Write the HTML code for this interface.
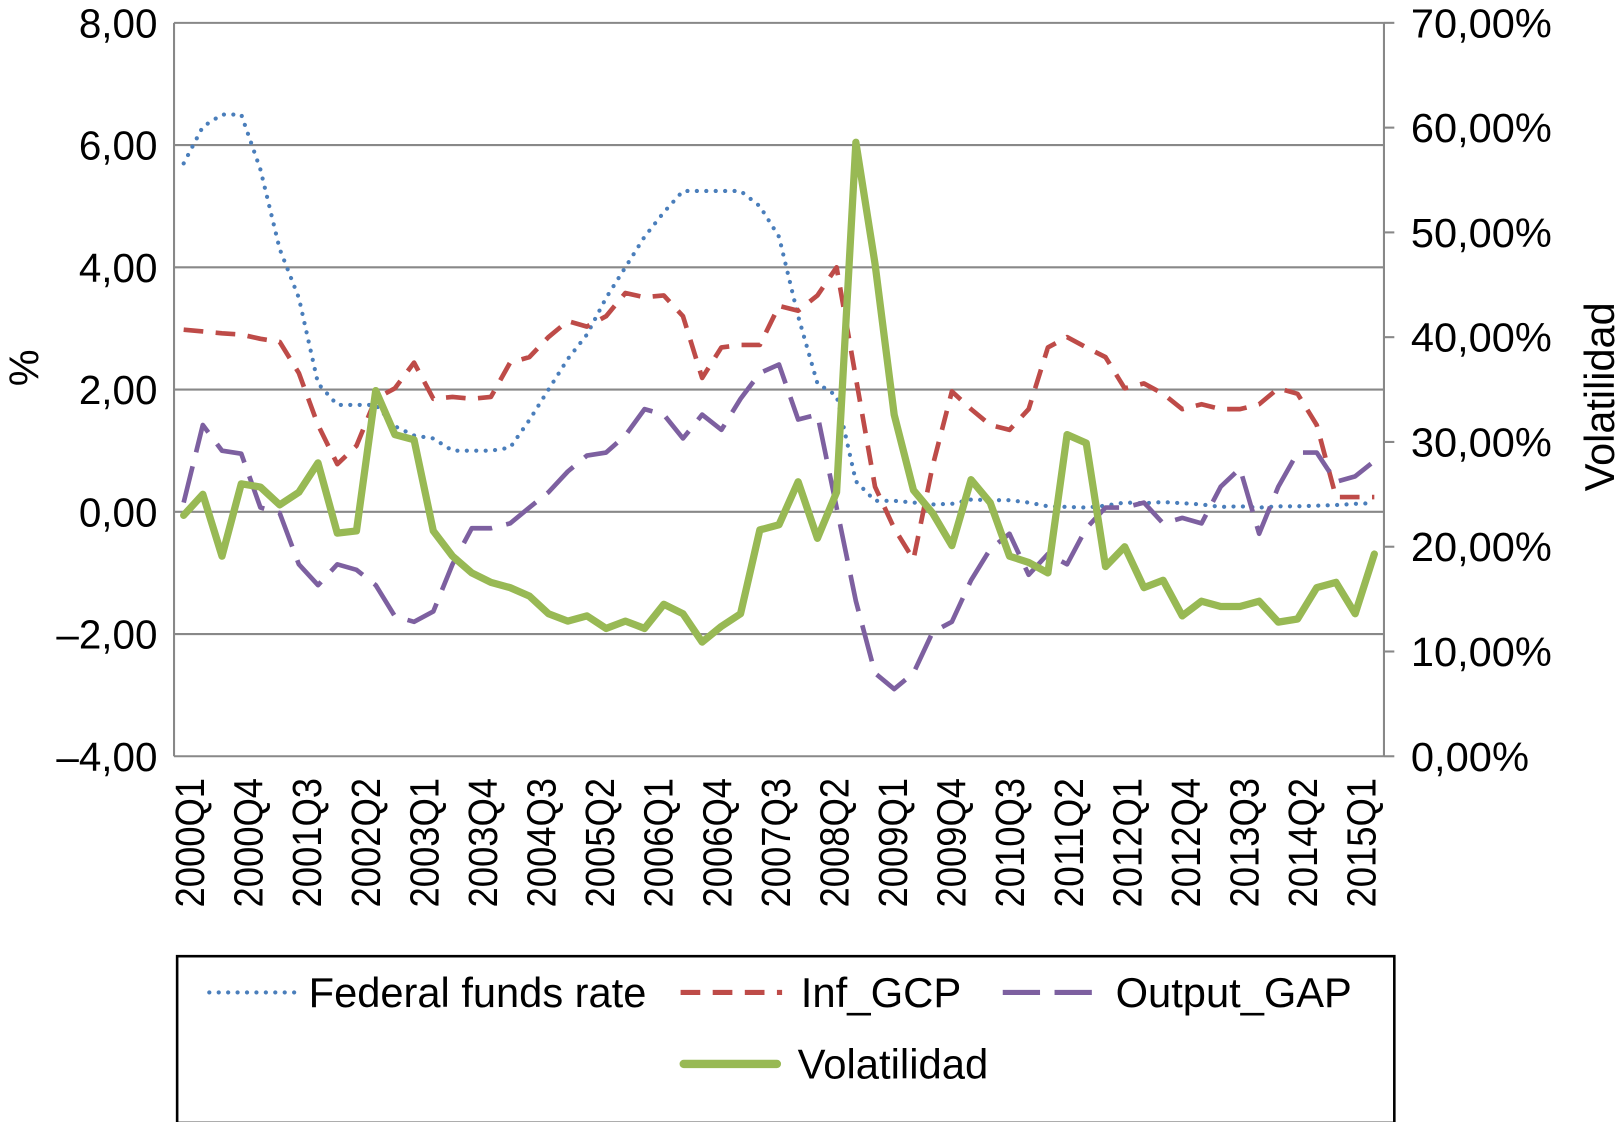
<!DOCTYPE html>
<html><head><meta charset="utf-8">
<style>
html,body{margin:0;padding:0;background:#fff;}
svg{display:block;font-family:"Liberation Sans",Arial,sans-serif;}
</style></head>
<body>
<svg id="chart" width="1616" height="1122" viewBox="0 0 1560 1083" xmlns="http://www.w3.org/2000/svg">
<g id="grid"></g>
<g id="axes"></g>
<g id="series"></g>
<text transform="translate(37,355) rotate(-90)" font-size="40" text-anchor="middle">%</text>
<text transform="translate(1558,383) rotate(-90)" font-size="40" text-anchor="middle">Volatilidad</text>
<g>
<rect x="171" y="923" width="1175" height="161" fill="#fff" stroke="#000" stroke-width="2.5"/>
<g>
<line x1="202" y1="958" x2="290" y2="958" stroke="#4a7ebb" stroke-width="4" stroke-dasharray="0.1 9" stroke-linecap="round"/>
<text x="298" y="972" font-size="40" textLength="326" lengthAdjust="spacingAndGlyphs">Federal funds rate</text></g>
<g>
<line x1="657" y1="958" x2="755" y2="958" stroke="#be4b48" stroke-width="5" stroke-dasharray="19 12"/>
<text x="773" y="972" font-size="40" textLength="155" lengthAdjust="spacingAndGlyphs">Inf_GCP</text></g>
<g>
<line x1="968" y1="958" x2="1062" y2="958" stroke="#7d60a0" stroke-width="5" stroke-dasharray="36 14"/>
<text x="1077" y="972" font-size="40" textLength="228" lengthAdjust="spacingAndGlyphs">Output_GAP</text></g>
<g>
<line x1="660" y1="1027" x2="750" y2="1027" stroke="#98b954" stroke-width="8" stroke-linecap="round"/>
<text x="770" y="1041" font-size="40" textLength="184" lengthAdjust="spacingAndGlyphs">Volatilidad</text></g>
</g>
</svg>
<script>
const quarterLabels = ["2000Q1","2000Q4","2001Q3","2002Q2","2003Q1","2003Q4","2004Q3","2005Q2","2006Q1","2006Q4","2007Q3","2008Q2","2009Q1","2009Q4","2010Q3","2011Q2","2012Q1","2012Q4","2013Q3","2014Q2","2015Q1"];
const leftTicks = [8,6,4,2,0,-2,-4];
const leftTickLabels = ["8,00","6,00","4,00","2,00","0,00","\u20132,00","\u20134,00"];
const rightTicks = [70,60,50,40,30,20,10,0];
const rightTickLabels = ["70,00%","60,00%","50,00%","40,00%","30,00%","20,00%","10,00%","0,00%"];
const fedFunds = [5.7,6.3,6.5,6.5,5.6,4.3,3.5,2.1,1.75,1.75,1.75,1.4,1.25,1.2,1.0,1.0,1.0,1.05,1.5,2.0,2.5,2.9,3.5,4.0,4.5,4.9,5.25,5.25,5.25,5.25,5.0,4.5,3.2,2.1,1.9,0.5,0.18,0.18,0.15,0.12,0.13,0.2,0.19,0.19,0.15,0.09,0.08,0.07,0.1,0.15,0.14,0.16,0.14,0.12,0.08,0.09,0.07,0.09,0.09,0.1,0.11,0.13,0.14];
const infGCP = [2.98,2.95,2.92,2.90,2.83,2.78,2.27,1.42,0.78,1.08,1.85,2.02,2.44,1.85,1.88,1.85,1.88,2.44,2.53,2.86,3.12,3.03,3.2,3.58,3.51,3.54,3.2,2.19,2.69,2.73,2.73,3.37,3.29,3.54,4.0,2.19,0.41,-0.27,-0.78,0.75,1.97,1.68,1.42,1.34,1.68,2.69,2.86,2.69,2.53,2.02,2.1,1.93,1.68,1.76,1.68,1.68,1.76,2.02,1.93,1.42,0.24,0.24,0.24];
const outputGap = [0.15,1.42,1.0,0.95,0.07,-0.02,-0.86,-1.2,-0.86,-0.95,-1.2,-1.71,-1.8,-1.63,-0.86,-0.27,-0.27,-0.19,0.07,0.32,0.66,0.92,0.97,1.25,1.68,1.59,1.2,1.59,1.34,1.85,2.27,2.41,1.51,1.59,0.07,-1.46,-2.64,-2.9,-2.64,-1.97,-1.8,-1.12,-0.61,-0.36,-1.03,-0.69,-0.86,-0.27,0.07,0.07,0.15,-0.19,-0.1,-0.19,0.41,0.71,-0.36,0.41,0.97,0.97,0.49,0.58,0.83];
const volatilidad = [23.0,25.0,19.1,26.0,25.7,24.0,25.2,28.0,21.3,21.5,34.9,30.7,30.2,21.5,19.1,17.5,16.6,16.1,15.3,13.6,12.9,13.4,12.2,12.9,12.2,14.5,13.6,10.9,12.4,13.6,21.6,22.1,26.2,20.8,25.2,58.6,47.0,32.6,25.4,23.2,20.1,26.4,24.2,19.1,18.5,17.5,30.7,29.9,18.1,20.0,16.1,16.8,13.4,14.8,14.3,14.3,14.8,12.8,13.1,16.1,16.6,13.6,19.3];

const NS="http://www.w3.org/2000/svg";
const L=168,R=1336,T=22,B=730;
const N=volatilidad.length;
const x=i=>L+(R-L)/N*(i+0.5);
const yL=v=>T+(8-v)/12*(B-T);
const yR=v=>B-v/70*(B-T);
function mk(tag,attrs,parent){const e=document.createElementNS(NS,tag);for(const k in attrs)e.setAttribute(k,attrs[k]);parent.appendChild(e);return e;}
const grid=document.getElementById('grid'),axes=document.getElementById('axes'),series=document.getElementById('series');
leftTicks.forEach((v,k)=>{
  const g=mk('line',{x1:L,x2:R,y1:yL(v),y2:yL(v),stroke:'#888','stroke-width':2},grid);
  
  
  const t=mk('text',{x:152,y:yL(v)+14,'font-size':39,'text-anchor':'end'},axes);
  t.textContent=leftTickLabels[k];
  
  
});
rightTicks.forEach((v,k)=>{
  const tk=mk('line',{x1:R,x2:R+10,y1:yR(v),y2:yR(v),stroke:'#888','stroke-width':2},axes);
  
  
  const t=mk('text',{x:1362,y:yR(v)+14,'font-size':39,textLength:136,lengthAdjust:'spacingAndGlyphs'},axes);
  if(rightTickLabels[k].length<6)t.setAttribute('textLength',114);
  t.textContent=rightTickLabels[k];
  
  
});
const la=mk('line',{x1:L,x2:L,y1:T,y2:B,stroke:'#888','stroke-width':2},axes);


const ra=mk('line',{x1:R,x2:R,y1:T,y2:B,stroke:'#888','stroke-width':2},axes);


quarterLabels.forEach((s,k)=>{
  const cx=183+k*(1314-183)/(quarterLabels.length-1);
  const t=mk('text',{transform:`translate(${cx+14},751) rotate(-90)`,'font-size':39,'text-anchor':'end',textLength:125,lengthAdjust:'spacingAndGlyphs'},axes);
  t.textContent=s;
  
  
});
function line(arr,yf,color,w,dash,cap,name){
  const d=arr.map((v,i)=>(i?'L':'M')+x(i).toFixed(1)+','+yf(v).toFixed(1)).join(' ');
  const p=mk('path',{d:d,fill:'none',stroke:color,'stroke-width':w,'stroke-linejoin':'round','stroke-linecap':cap},series);
  if(dash)p.setAttribute('stroke-dasharray',dash);
  
  
}
line(fedFunds,yL,'#4a7ebb',4,'0.1 9','round','fed-funds-line');
line(infGCP,yL,'#be4b48',4.5,'19 12','butt','inf-gcp-line');
line(outputGap,yL,'#7d60a0',4.5,'36 14','butt','output-gap-line');
line(volatilidad,yR,'#98b954',7,null,'round','volatilidad-line');
</script>
</body></html>
